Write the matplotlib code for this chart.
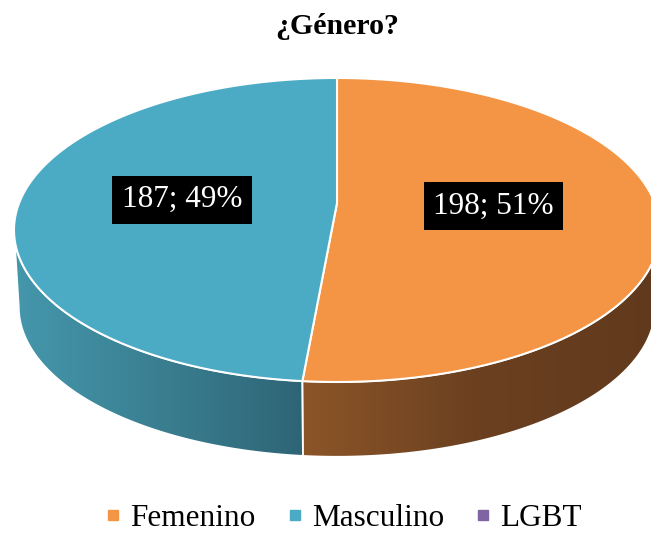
import numpy as np
import matplotlib.pyplot as plt
from matplotlib.patches import Polygon
from matplotlib.lines import Line2D
from matplotlib.colors import LinearSegmentedColormap

titulo = '¿Género?'
categorias = ['Femenino', 'Masculino', 'LGBT']
valores = [198, 187, 0]
colores = ['#F39545', '#4BAAC4', '#8064A2']
# colores del costado (degradado de izquierda a derecha)
lados = [['#8C5528', '#6A4020', '#61391C'],
         ['#4597AC', '#3A7F91', '#2E6576'],
         ['#5E4A78', '#4F3E66', '#43355A']]

plt.rcParams['font.family'] = ['Liberation Serif', 'DejaVu Serif']

fig = plt.figure(figsize=(6.51, 5.36), dpi=100)
ax = fig.add_axes([0, 0, 1, 1])
ax.set_xlim(0, 651)
ax.set_ylim(536, 0)
ax.axis('off')

# geometria del pastel 3D (elipse superior en pixeles)
cx, cy, rx, ry = 337, 230, 323, 152
prof = 77
phi = np.arctanh(0.178)  # perspectiva: centro desplazado hacia arriba
ch, sh = np.cosh(phi), np.sinh(phi)


def proyecta(theta, f=1.0):
    # angulo en grados, sentido horario desde arriba
    t = np.radians(theta)
    u, s = f * np.sin(t), f * np.cos(t)
    w = sh * s + ch
    return cx + rx * u / w, cy - ry * (ch * s + sh) / w


def psi_de(theta):
    x, y = proyecta(theta)
    return np.degrees(np.arctan2((x - cx) / rx, -(y - cy) / ry)) % 360


def elipse(psi, k=1.0, dy=0):
    p = np.radians(psi)
    return cx + k * rx * np.sin(p), cy + dy - k * ry * np.cos(p)


total = sum(valores)
angulos = np.concatenate([[0], np.cumsum(valores) / total * 360])

# costados
for i, v in enumerate(valores):
    if v == 0:
        continue
    p0 = psi_de(angulos[i])
    p1 = psi_de(angulos[i + 1]) if angulos[i + 1] < 360 else 360
    if p1 <= p0:
        p1 += 360
    a, b = max(p0, 90), min(p1, 270)
    if a >= b:
        continue
    ps = np.linspace(a, b, 200)
    xs, ys = elipse(ps)
    xb, yb = elipse(ps, 0.985, prof)
    pts = np.vstack([np.column_stack([xs, ys]),
                     np.column_stack([xb[::-1], yb[::-1]])])
    poly = Polygon(pts, closed=True, facecolor='none', edgecolor='white',
                   lw=1.2, zorder=3)
    ax.add_patch(poly)
    cmap = LinearSegmentedColormap.from_list('lado%d' % i, lados[i])
    grad = np.linspace(0, 1, 256).reshape(1, -1)
    im = ax.imshow(grad, cmap=cmap, aspect='auto', zorder=2,
                   extent=(pts[:, 0].min(), pts[:, 0].max(),
                           pts[:, 1].max(), pts[:, 1].min()))
    im.set_clip_path(poly)

ax.set_xlim(0, 651)
ax.set_ylim(536, 0)

# cara superior
for i, v in enumerate(valores):
    if v == 0:
        continue
    th = np.linspace(angulos[i], angulos[i + 1], 300)
    xs, ys = proyecta(th)
    ax0, ay0 = proyecta(0, 0.0)
    pts = np.vstack([[ax0, ay0], np.column_stack([xs, ys])])
    ax.add_patch(Polygon(pts, closed=True, facecolor=colores[i],
                         edgecolor='white', lw=1.5, zorder=4))

# etiquetas
for i, v in enumerate(valores):
    if v == 0:
        continue
    mid = (angulos[i] + angulos[i + 1]) / 2
    x, y = proyecta(mid, 0.49)
    ax.text(x, y, '%d; %d%%' % (v, round(v / total * 100)), color='white',
            fontsize=22.5, ha='center', va='center', zorder=5,
            bbox=dict(boxstyle='square,pad=0.3', fc='black', ec='none'))

ax.text(cx, 26, titulo, fontsize=21.5, fontweight='bold', ha='center',
        va='center')

handles = [Line2D([], [], ls='none', marker='s', ms=7, mfc=c, mec=c)
           for c in colores]
fig.legend(handles, categorias, loc='center', ncol=3, frameon=False,
           bbox_to_anchor=(343.5 / 651, 1 - 518 / 536), fontsize=22.5,
           handlelength=0.5, handletextpad=0.3, columnspacing=1.0)

fig.savefig('out.png', dpi=100)
